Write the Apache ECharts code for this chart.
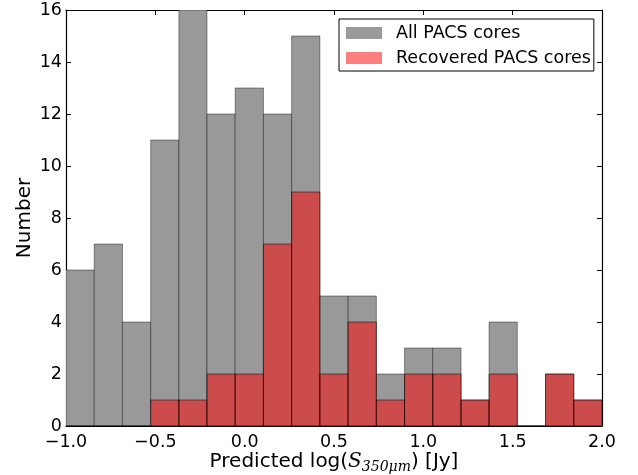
<!DOCTYPE html>
<html>
<head>
<meta charset="utf-8">
<script src="https://cdn.jsdelivr.net/npm/echarts@6/dist/echarts.min.js"></script>
<style>
html, body { margin: 0; padding: 0; background: #fff; }
#chart { width: 638px; height: 475px; }
</style>
</head>
<body>
<div id="chart"></div>
<script>
// histogram bins (edges) and counts
var binEdges = [-1.000, -0.842, -0.684, -0.526, -0.368, -0.211, -0.053, 0.105, 0.263, 0.421,
                0.579, 0.737, 0.895, 1.053, 1.211, 1.368, 1.526, 1.684, 1.842, 2.000];
var allCounts = [6, 7, 4, 11, 16, 12, 13, 12, 15, 5, 5, 2, 3, 3, 1, 4, 0, 2, 1];
var recoveredCounts = [0, 0, 0, 1, 1, 2, 2, 7, 9, 2, 4, 1, 2, 2, 1, 2, 0, 2, 1];
var seriesNames = ['All PACS cores', 'Recovered PACS cores'];

var FONT = 'DejaVu Sans';

function toBins(counts) {
    return counts.map(function (c, i) {
        return [binEdges[i], binEdges[i + 1], c];
    });
}

function histItem(fill, stroke) {
    return function (params, api) {
        var p0 = api.coord([api.value(0), api.value(2)]);
        var p1 = api.coord([api.value(1), 0]);
        return {
            type: 'rect',
            shape: { x: p0[0], y: p0[1], width: p1[0] - p0[0], height: p1[1] - p0[1] },
            style: { fill: fill, stroke: stroke, lineWidth: 1 }
        };
    };
}

var chart = echarts.init(document.getElementById('chart'), null, { renderer: 'canvas' });

var tickStyle = { show: true, inside: true, length: 5, lineStyle: { color: '#000', width: 1 } };
var lineStyle = { show: true, onZero: false, lineStyle: { color: '#000', width: 1.2 } };

var option = {
    animation: false,
    backgroundColor: '#fff',
    textStyle: { fontFamily: FONT },
    grid: { left: 66, right: 36, top: 10, bottom: 49, containLabel: false, outerBoundsMode: 'none' },
    legend: {
        orient: 'vertical',
        left: 339,
        top: 19,
        padding: [4, 3, 3, 7],
        itemGap: 5,
        itemWidth: 36,
        itemHeight: 12,
        borderColor: '#000',
        borderWidth: 1,
        icon: 'rect',
        textStyle: { fontFamily: FONT, fontSize: 17.5, color: '#000', lineHeight: 20, padding: [0, 0, 0, 9] },
        data: seriesNames
    },
    xAxis: [{
        type: 'value',
        min: -1, max: 2, interval: 0.5,
        axisLine: lineStyle,
        axisTick: tickStyle,
        splitLine: { show: false },
        axisLabel: {
            fontFamily: FONT, fontSize: 17.5, color: '#000', margin: 7,
            formatter: function (v) { return (v < 0 ? '\u2212' : '') + Math.abs(v).toFixed(1); }
        },
        name: 'Predicted log({s|S}{sub|350\u03bcm}) [Jy]',
        nameLocation: 'middle',
        nameGap: 23,
        nameMoveOverlap: false,
        nameTextStyle: {
            fontFamily: FONT, fontSize: 20, color: '#000',
            rich: {
                s: { fontFamily: 'DejaVu Serif', fontStyle: 'italic', fontSize: 20, color: '#000' },
                sub: { fontFamily: 'DejaVu Serif', fontStyle: 'italic', fontSize: 14, color: '#000', padding: [11, 0, 0, 0] }
            }
        }
    }, {
        type: 'value', position: 'top',
        min: -1, max: 2, interval: 0.5,
        axisLine: lineStyle, axisTick: tickStyle,
        axisLabel: { show: false }, splitLine: { show: false }
    }],
    yAxis: [{
        type: 'value',
        min: 0, max: 16, interval: 2,
        axisLine: lineStyle,
        axisTick: tickStyle,
        splitLine: { show: false },
        axisLabel: { fontFamily: FONT, fontSize: 17.5, color: '#000', margin: 4 },
        name: 'Number',
        nameLocation: 'middle',
        nameGap: 31,
        nameMoveOverlap: false,
        nameTextStyle: { fontFamily: FONT, fontSize: 20, color: '#000' }
    }, {
        type: 'value', position: 'right',
        min: 0, max: 16, interval: 2,
        axisLine: lineStyle, axisTick: tickStyle,
        axisLabel: { show: false }, splitLine: { show: false }
    }],
    series: [{
        name: seriesNames[0],
        type: 'custom',
        clip: true,
        itemStyle: { color: '#999999' },
        renderItem: histItem('#999999', 'rgba(0,0,0,0.4)'),
        encode: { x: [0, 1], y: 2 },
        data: toBins(allCounts)
    }, {
        name: seriesNames[1],
        type: 'custom',
        clip: true,
        itemStyle: { color: 'rgba(255,0,0,0.5)' },
        renderItem: histItem('rgba(255,0,0,0.5)', 'rgba(0,0,0,0.5)'),
        encode: { x: [0, 1], y: 2 },
        data: toBins(recoveredCounts)
    }]
};

chart.setOption(option);
</script>
</body>
</html>
